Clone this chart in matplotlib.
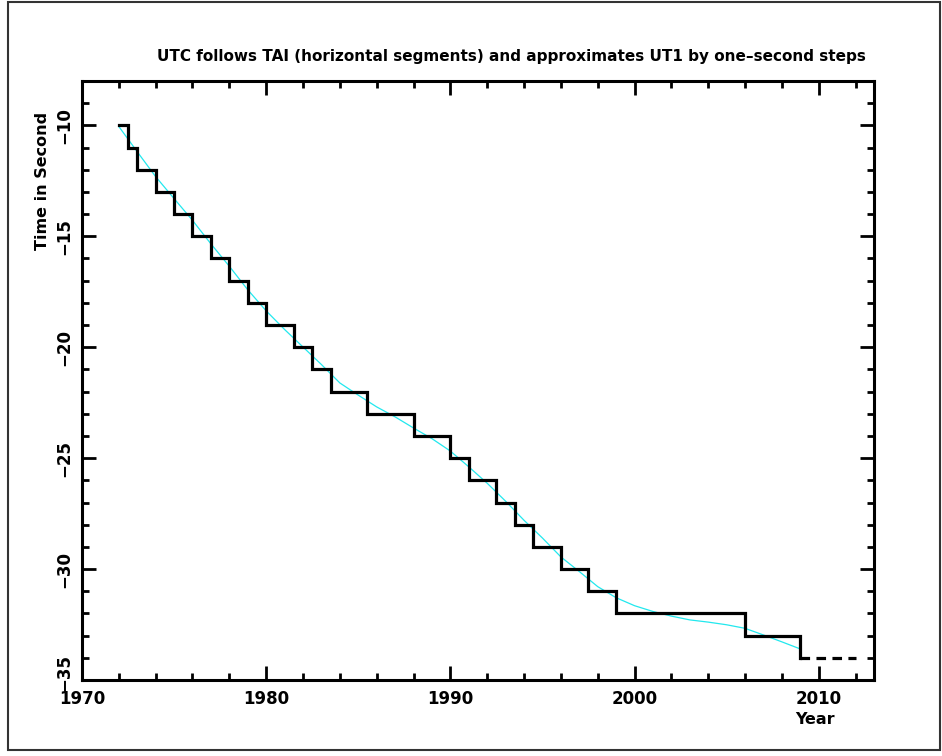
import matplotlib
matplotlib.use("Agg")
import matplotlib.pyplot as plt
from matplotlib.patches import Rectangle
from matplotlib.ticker import MultipleLocator
from matplotlib.transforms import ScaledTranslation

# UTC - TAI (seconds), leap second dates
leap_dates = [1972.0, 1972.5, 1973.0, 1974.0, 1975.0, 1976.0, 1977.0, 1978.0,
              1979.0, 1980.0, 1981.5, 1982.5, 1983.5, 1985.5, 1988.0, 1990.0,
              1991.0, 1992.5, 1993.5, 1994.5, 1996.0, 1997.5, 1999.0, 2006.0,
              2009.0]
utc_tai = [-10, -11, -12, -13, -14, -15, -16, -17, -18, -19, -20, -21, -22,
           -23, -24, -25, -26, -27, -28, -29, -30, -31, -32, -33, -34]
future_years = [2009.0, 2012.0]
future_vals = [-34, -34]

# UT1 - TAI (seconds)
ut1_years = [1972, 1973, 1974, 1975, 1976, 1977, 1978, 1979, 1980, 1981,
             1982, 1983, 1984, 1985, 1986, 1987, 1988, 1989, 1990, 1991,
             1992, 1993, 1994, 1995, 1996, 1997, 1998, 1999, 2000, 2001,
             2002, 2003, 2004, 2005, 2006, 2007, 2008, 2009]
ut1_tai = [-10.05, -11.19, -12.31, -13.30, -14.28, -15.34, -16.35, -17.41,
           -18.36, -19.20, -19.99, -20.78, -21.61, -22.16, -22.69, -23.14,
           -23.64, -24.12, -24.68, -25.39, -26.13, -26.94, -27.80, -28.60,
           -29.45, -30.11, -30.79, -31.29, -31.65, -31.91, -32.12, -32.29,
           -32.39, -32.51, -32.67, -32.97, -33.28, -33.60]

plt.rcParams['font.family'] = 'DejaVu Sans'
plt.rcParams['font.weight'] = 'bold'

fig = plt.figure(figsize=(9.42, 7.56), dpi=100)
ax = fig.add_axes([0.0870, 0.1005, 0.8408, 0.7924])

ax.plot(ut1_years, ut1_tai, color='#22e8ee', linewidth=0.9, zorder=2)

# solid step line: horizontal to next leap, then drop
xs, ys = [], []
for i in range(len(leap_dates) - 1):
    xs += [leap_dates[i], leap_dates[i + 1]]
    ys += [utc_tai[i], utc_tai[i]]
xs.append(leap_dates[-1])
ys.append(utc_tai[-1])
ax.plot(xs, ys, color='black', linewidth=2.3, solid_joinstyle='miter', zorder=3)
ax.plot(future_years, future_vals, color='black', linewidth=2.3,
        linestyle=(0, (3, 2)), zorder=3)

ax.set_xlim(1970, 2013)
ax.set_ylim(-35, -8)
ax.xaxis.set_major_locator(MultipleLocator(10))
ax.xaxis.set_minor_locator(MultipleLocator(2))
ax.yaxis.set_major_locator(MultipleLocator(5))
ax.yaxis.set_minor_locator(MultipleLocator(1))
ax.tick_params(which='both', direction='in', top=True, right=True, width=2,
               labelsize=12)
ax.tick_params(which='major', length=10)
ax.tick_params(axis='x', pad=7)
ax.tick_params(axis='y', pad=6)
ax.tick_params(which='minor', length=5)
ax.tick_params(axis='y', labelrotation=90)
fig.canvas.draw()
for lab in ax.get_yticklabels():
    lab.set_va('center')
    if lab.get_text().endswith('35'):
        lab.set_transform(lab.get_transform() +
                          ScaledTranslation(0, 8 / 100, fig.dpi_scale_trans))
for s in ax.spines.values():
    s.set_linewidth(2.2)

fig.text(0.5425, 0.925, 'UTC follows TAI (horizontal segments) and approximates UT1 by one\u2013second steps',
         ha='center', va='center', fontsize=11, fontweight='bold')
fig.text(0.045, 1 - 181 / 756, 'Time in Second', rotation=90, ha='center',
         va='center', fontsize=11.5, fontweight='bold')
fig.text(815 / 942, 1 - 720 / 756, 'Year', ha='center', va='center',
         fontsize=11.5, fontweight='bold')

fig.patches.append(Rectangle((0.008, 0.008), 0.99, 0.99, transform=fig.transFigure,
                             fill=False, edgecolor='#333333', linewidth=1.5))

fig.savefig('out.png', dpi=100)
